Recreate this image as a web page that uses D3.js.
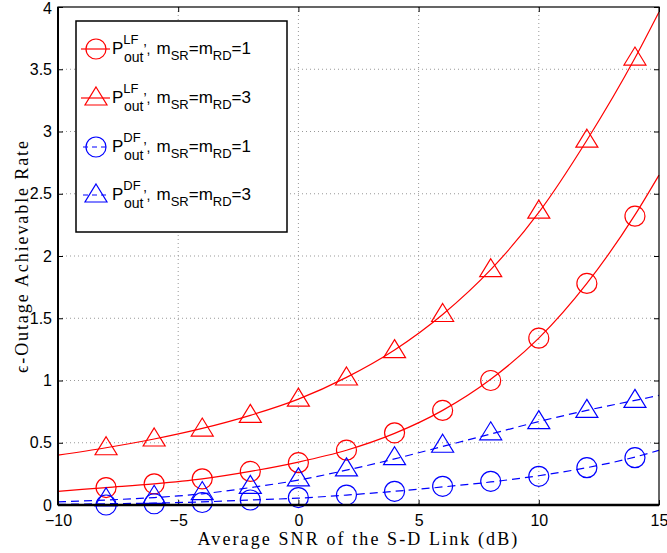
<!DOCTYPE html>
<html>
<head>
<meta charset="utf-8">
<script src="https://cdn.jsdelivr.net/npm/d3@7"></script>
<style>
  body { margin: 0; background: #fff; }
  .grid line { stroke: #999; stroke-dasharray: 1,3; }
</style>
</head>
<body>
<div id="chart"></div>
<script>
// curve points (analysis) and marker points (simulation)
const lineX = [-10, -8, -6, -4, -2, 0, 2, 4, 6, 8, 10, 12, 14, 15];
const simX = [-8, -6, -4, -2, 0, 2, 4, 6, 8, 10, 12, 14];

const lfM1Line = [0.11, 0.14, 0.17, 0.21, 0.27, 0.345, 0.44, 0.575, 0.76, 1.01, 1.34, 1.78, 2.33, 2.65];
const lfM3Line = [0.40, 0.46, 0.53, 0.615, 0.72, 0.85, 1.025, 1.245, 1.53, 1.89, 2.35, 2.93, 3.59, 3.96];
const dfM1Line = [0.005, 0.01, 0.015, 0.025, 0.04, 0.055, 0.08, 0.11, 0.145, 0.185, 0.235, 0.30, 0.385, 0.44];
const dfM3Line = [0.025, 0.04, 0.06, 0.09, 0.14, 0.20, 0.28, 0.37, 0.47, 0.57, 0.67, 0.76, 0.84, 0.88];

const lfM1Sim = [0.14, 0.17, 0.21, 0.27, 0.34, 0.44, 0.58, 0.76, 1.00, 1.34, 1.78, 2.32];
const lfM3Sim = [0.46, 0.53, 0.61, 0.72, 0.85, 1.02, 1.24, 1.53, 1.89, 2.36, 2.93, 3.59];
const dfM1Sim = [0.00, 0.01, 0.02, 0.04, 0.06, 0.08, 0.11, 0.15, 0.19, 0.23, 0.30, 0.38];
const dfM3Sim = [0.05, 0.07, 0.10, 0.15, 0.21, 0.29, 0.38, 0.48, 0.58, 0.67, 0.76, 0.84];

const xTicks = [-10, -5, 0, 5, 10, 15];
const yTicks = [0, 0.5, 1, 1.5, 2, 2.5, 3, 3.5, 4];

const seriesNames = ["LF", "LF", "DF", "DF"];
const seriesM = ["1", "3", "1", "3"];

const series = [
  {line: lfM1Line, sim: lfM1Sim, color: "#ff0000", dash: null, marker: "circle"},
  {line: lfM3Line, sim: lfM3Sim, color: "#ff0000", dash: null, marker: "triangle"},
  {line: dfM1Line, sim: dfM1Sim, color: "#0000ff", dash: "8,5", marker: "circle"},
  {line: dfM3Line, sim: dfM3Sim, color: "#0000ff", dash: "8,5", marker: "triangle"}
];

const sans = "'Liberation Sans', Arial, sans-serif";
const serif = "'Liberation Serif', 'DejaVu Serif', serif";

const W = 667, H = 553;
const margin = {top: 7, right: 8, bottom: 48, left: 58};
const width = W - margin.left - margin.right;
const height = H - margin.top - margin.bottom;

const svg = d3.select("#chart").append("svg")
  .attr("width", W).attr("height", H);

const g = svg.append("g")
  .attr("transform", "translate(" + margin.left + "," + margin.top + ")");

const x = d3.scaleLinear().domain([-10, 15]).range([0, width]);
const y = d3.scaleLinear().domain([0, 4]).range([height, 0]);

// grid
g.append("g").attr("class", "grid")
  .selectAll("line").data(xTicks.slice(1, -1)).join("line")
  .attr("x1", d => x(d)).attr("x2", d => x(d))
  .attr("y1", 0).attr("y2", height);
g.append("g").attr("class", "grid")
  .selectAll("line").data(yTicks.slice(1, -1)).join("line")
  .attr("x1", 0).attr("x2", width)
  .attr("y1", d => y(d)).attr("y2", d => y(d));

// axes, ticks pointing inward
const xAxis = g.append("g").attr("transform", "translate(0," + height + ")")
  .call(d3.axisBottom(x).tickValues(xTicks).tickSize(-5).tickPadding(10)
    .tickFormat(d => d < 0 ? "\u2212" + Math.abs(d) : String(d)));
const xAxisTop = g.append("g")
  .call(d3.axisTop(x).tickValues(xTicks).tickSize(-5).tickFormat(""));
const yAxis = g.append("g")
  .call(d3.axisLeft(y).tickValues(yTicks).tickSize(-5).tickPadding(6)
    .tickFormat(d => String(d)));
const yAxisRight = g.append("g").attr("transform", "translate(" + width + ",0)")
  .call(d3.axisRight(y).tickValues(yTicks).tickSize(-5).tickFormat(""));

[xAxis, xAxisTop, yAxis, yAxisRight].forEach(a => {
  a.select(".domain").remove();
  a.selectAll("line").attr("stroke", "#000");
  a.selectAll("text").attr("fill", "#000")
    .style("font-family", sans).style("font-size", "16px");
});
// keep the top label inside the page
yAxis.selectAll(".tick").filter(d => d === 4).select("text").attr("dy", "0.75em").attr("y", -6);

// lines
const line = d3.line()
  .x((d, i) => x(lineX[i]))
  .y(d => y(d))
  .curve(d3.curveMonotoneX);

const plot = g.append("g");

function drawMarker(sel, type, color) {
  if (type === "circle") {
    sel.append("circle").attr("r", 10)
      .attr("fill", "none").attr("stroke", color).attr("stroke-width", 1.2);
  } else {
    sel.append("path").attr("d", "M0,-11 L11,7 L-11,7 Z")
      .attr("fill", "none").attr("stroke", color).attr("stroke-width", 1.2);
  }
}

series.forEach(s => {
  plot.append("path").datum(s.line)
    .attr("d", line)
    .attr("fill", "none")
    .attr("stroke", s.color)
    .attr("stroke-width", 1.2)
    .attr("stroke-dasharray", s.dash);
  const m = plot.append("g").selectAll("g").data(s.sim).join("g")
    .attr("transform", (d, i) => "translate(" + x(simX[i]) + "," + y(d) + ")");
  drawMarker(m, s.marker, s.color);
});

// box
g.append("rect").attr("x", 0).attr("y", 0).attr("width", width).attr("height", height)
  .attr("fill", "none").attr("stroke", "#000").attr("stroke-width", 1.2);
g.append("line").attr("x1", 0).attr("x2", width).attr("y1", height).attr("y2", height)
  .attr("stroke", "#000").attr("stroke-width", 2.5);
g.append("line").attr("x1", 0).attr("x2", 0).attr("y1", 0).attr("y2", height)
  .attr("stroke", "#000").attr("stroke-width", 2);

// axis labels
svg.append("text")
  .attr("x", margin.left + width / 2).attr("y", 545)
  .attr("text-anchor", "middle")
  .style("font-family", serif)
  .style("font-size", "18px")
  .style("letter-spacing", "2.1px")
  .text("Average SNR of the S-D Link (dB)");

svg.append("text")
  .attr("transform", "translate(28," + (margin.top + height / 2) + ") rotate(-90)")
  .attr("text-anchor", "middle")
  .style("font-family", serif)
  .style("font-size", "18px")
  .style("letter-spacing", "1.9px")
  .text("\u03f5-Outage Achievable Rate");

// legend
const legend = svg.append("g").attr("transform", "translate(76,21)");
legend.append("rect").attr("width", 211).attr("height", 211)
  .attr("fill", "#fff").attr("stroke", "#000").attr("stroke-width", 1.5);

const rowY = [28, 77, 126, 174];
series.forEach((s, i) => {
  const row = legend.append("g").attr("transform", "translate(0," + rowY[i] + ")");
  row.append("line").attr("x1", 5).attr("x2", 34)
    .attr("stroke", s.color).attr("stroke-width", 1.2)
    .attr("stroke-dasharray", s.dash ? "5,4" : null)
    .attr("stroke-dashoffset", s.dash ? -2 : null);
  const mk = row.append("g").attr("transform", "translate(20,0)");
  drawMarker(mk, s.marker, s.color);
  const t = row.append("text").attr("x", 36).attr("y", 5)
    .attr("fill", "#000").style("font-family", sans).style("font-size", "17px");
  t.append("tspan").text("P");
  t.append("tspan").attr("dy", -10).style("font-size", "13px").text(seriesNames[i]);
  t.append("tspan").attr("x", 48).attr("dy", 18).style("font-size", "14px").text("out");
  t.append("tspan").attr("dy", -8).style("font-size", "14px").text("\u2019,");
  t.append("tspan").attr("dx", 6).style("font-size", "17px").text("m");
  t.append("tspan").attr("dy", 6).style("font-size", "13px").text("SR");
  t.append("tspan").attr("dy", -6).style("font-size", "17px").text("=m");
  t.append("tspan").attr("dy", 6).style("font-size", "13px").text("RD");
  t.append("tspan").attr("dy", -6).style("font-size", "17px").text("=" + seriesM[i]);
});
</script>
</body>
</html>
